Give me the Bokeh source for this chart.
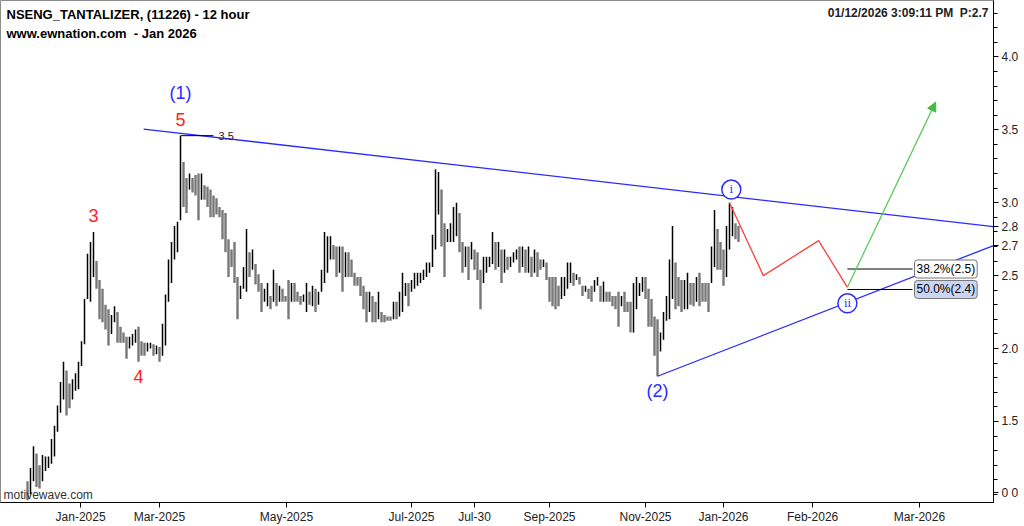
from bokeh.plotting import figure
from bokeh.models import Range1d, FixedTicker, Label, Arrow, NormalHead, ColumnDataSource
from bokeh.core.properties import value
from bokeh.embed import file_html
from bokeh.resources import INLINE

# ---------------- data (12h bars, high / low) ----------------
highs = [
    1.09, 1.18, 1.33, 1.28, 1.20, 1.27, 1.26, 1.26, 1.38, 1.47,
    1.61, 1.77, 1.91, 1.85, 1.76, 1.79, 1.83, 1.91, 2.05, 2.34,
    2.65, 2.73, 2.80, 2.60, 2.47, 2.41, 2.30, 2.27, 2.23, 2.29,
    2.25, 2.15, 2.11, 2.08, 2.08, 2.10, 2.13, 2.15, 2.05, 2.04,
    2.04, 2.04, 2.03, 2.02, 2.01, 2.17, 2.37, 2.61, 2.73, 2.84,
    2.87, 3.46, 3.28, 3.17, 3.20, 3.17, 3.19, 3.20, 3.20, 3.12,
    3.11, 3.09, 3.05, 3.03, 2.97, 2.95, 2.93, 2.75, 2.68, 2.73,
    2.49, 2.43, 2.56, 2.82, 2.66, 2.68, 2.58, 2.51, 2.45, 2.41,
    2.45, 2.36, 2.54, 2.45, 2.43, 2.41, 2.36, 2.47, 2.45, 2.45,
    2.39, 2.36, 2.37, 2.45, 2.39, 2.43, 2.41, 2.39, 2.54, 2.80,
    2.77, 2.77, 2.71, 2.70, 2.70, 2.70, 2.66, 2.66, 2.61, 2.52,
    2.49, 2.49, 2.43, 2.39, 2.39, 2.36, 2.32, 2.39, 2.25, 2.23,
    2.22, 2.22, 2.32, 2.32, 2.39, 2.52, 2.45, 2.45, 2.47, 2.52,
    2.52, 2.52, 2.54, 2.59, 2.59, 2.78, 3.23, 3.21, 3.09, 2.86,
    2.82, 2.86, 2.97, 3.00, 2.93, 2.73, 2.70, 2.70, 2.73, 2.68,
    2.66, 2.54, 2.63, 2.63, 2.63, 2.80, 2.73, 2.73, 2.68, 2.68,
    2.63, 2.63, 2.66, 2.68, 2.70, 2.70, 2.68, 2.70, 2.63, 2.68,
    2.66, 2.61, 2.61, 2.59, 2.49, 2.49, 2.49, 2.43, 2.49, 2.49,
    2.59, 2.59, 2.52, 2.51, 2.49, 2.43, 2.43, 2.41, 2.43, 2.47,
    2.49, 2.43, 2.46, 2.39, 2.39, 2.36, 2.36, 2.39, 2.36, 2.39,
    2.32, 2.32, 2.45, 2.49, 2.45, 2.49, 2.49, 2.41, 2.34, 2.22,
    2.20, 2.11, 2.25, 2.36, 2.61, 2.84, 2.59, 2.49, 2.47, 2.47,
    2.52, 2.45, 2.45, 2.49, 2.52, 2.45, 2.45, 2.45, 2.70, 2.95,
    2.82, 2.73, 2.68, 2.84, 3.00, 2.97, 2.86, 2.84,
]
lows = [
    0.96, 1.00, 1.09, 1.05, 1.04, 1.09, 1.16, 1.18, 1.21, 1.26,
    1.43, 1.56, 1.65, 1.54, 1.59, 1.65, 1.71, 1.72, 1.88, 2.03,
    2.34, 2.32, 2.49, 2.41, 2.20, 2.18, 2.13, 2.02, 2.10, 2.18,
    2.04, 2.04, 2.04, 1.93, 2.00, 2.02, 2.04, 1.91, 1.95, 1.95,
    1.98, 2.00, 1.95, 1.96, 1.91, 1.95, 2.02, 2.32, 2.45, 2.61,
    2.66, 2.88, 2.97, 2.93, 3.09, 3.07, 3.05, 2.88, 3.02, 3.02,
    2.97, 2.90, 2.90, 2.92, 2.90, 2.75, 2.66, 2.49, 2.56, 2.45,
    2.20, 2.34, 2.41, 2.39, 2.49, 2.54, 2.44, 2.39, 2.25, 2.32,
    2.29, 2.27, 2.32, 2.29, 2.32, 2.32, 2.32, 2.20, 2.32, 2.32,
    2.32, 2.30, 2.32, 2.25, 2.30, 2.29, 2.25, 2.30, 2.39, 2.45,
    2.52, 2.61, 2.61, 2.49, 2.52, 2.39, 2.49, 2.49, 2.49, 2.43,
    2.43, 2.36, 2.27, 2.18, 2.25, 2.18, 2.18, 2.20, 2.18, 2.18,
    2.19, 2.19, 2.20, 2.20, 2.22, 2.25, 2.36, 2.29, 2.39, 2.41,
    2.43, 2.45, 2.47, 2.49, 2.52, 2.56, 2.68, 2.92, 2.70, 2.49,
    2.73, 2.73, 2.73, 2.77, 2.66, 2.52, 2.56, 2.47, 2.61, 2.54,
    2.47, 2.27, 2.45, 2.52, 2.56, 2.58, 2.54, 2.56, 2.45, 2.52,
    2.54, 2.56, 2.59, 2.61, 2.52, 2.56, 2.52, 2.52, 2.49, 2.52,
    2.49, 2.54, 2.56, 2.47, 2.32, 2.29, 2.27, 2.29, 2.34, 2.36,
    2.41, 2.45, 2.43, 2.47, 2.44, 2.36, 2.39, 2.34, 2.32, 2.39,
    2.43, 2.32, 2.32, 2.32, 2.32, 2.29, 2.27, 2.15, 2.29, 2.25,
    2.25, 2.11, 2.11, 2.27, 2.36, 2.39, 2.34, 2.15, 2.15, 1.95,
    1.81, 1.98, 2.06, 2.19, 2.20, 2.34, 2.27, 2.29, 2.25, 2.27,
    2.27, 2.30, 2.29, 2.32, 2.29, 2.32, 2.32, 2.25, 2.45, 2.56,
    2.54, 2.54, 2.43, 2.49, 2.68, 2.77, 2.75, 2.73,
]

tick_pos = [17.7, 44, 86.3, 128, 149, 174, 206, 232, 261.7, 297.3]
tick_labels = ["Jan-2025", "Mar-2025", "May-2025", "Jul-2025", "Jul-30",
               "Sep-2025", "Nov-2025", "Jan-2026", "Feb-2026", "Mar-2026"]
price_ticks = [1.5, 2.0, 2.5, 3.0, 3.5, 4.0]

wave_names = ["3", "4", "5", "(1)", "(2)"]
wave_bars = [22, 37, 51, 51, 210]

minor_names = ["i", "ii"]
proj_x = [234, 245.3, 263.7, 273.3]
proj_y = [3.00, 2.50, 2.74, 2.42]
target_x = [273.3, 302.7]
target_y = [2.42, 3.69]
upper_x = [38.7, 322]
upper_y = [3.505, 2.836]
lower_x = [210, 322]
lower_y = [1.81, 2.706]
fib_ratios = [0.382, 0.5]

NB = "\u00a0"
title_lines = ["NSENG_TANTALIZER, (11226) - 12 hour", "www.ewnation.com" + NB + " - Jan 2026"]
stamp = "01/12/2026 3:09:11 PM" + NB + " P:2.7"

# ---------------- figure ----------------
X0, X1 = -9, 322
Y0, Y1 = 0.944, 4.387
FONT = "Liberation Sans"

p = figure(width=1024, height=526, x_range=Range1d(X0, X1), y_range=Range1d(Y0, Y1),
           y_axis_location="right", output_backend="svg", toolbar_location=None,
           min_border_left=0, min_border_top=0, min_border_right=31, min_border_bottom=22)
p.xgrid.visible = False
p.ygrid.visible = False
p.outline_line_color = "#8c8c8c"
p.background_fill_color = "white"
p.border_fill_color = "white"

# right price axis (the line's current values are tagged on it)
tag_vals = [upper_y[-1], lower_y[-1], Y0 + 0.066]
tag_text = [f"{upper_y[-1]:.1f}", f"{lower_y[-1]:.1f}", "0 0"]
ya = p.yaxis[0]
minor = [round(1.0 + 0.1 * k, 2) for k in range(35)]
ya.ticker = FixedTicker(ticks=price_ticks + tag_vals, minor_ticks=minor)
overrides = {t: f"{t:.1f}" for t in price_ticks}
overrides.update({t: s for t, s in zip(tag_vals, tag_text)})
ya.major_label_overrides = overrides
ya.major_label_text_font = FONT
ya.major_label_text_font_size = "12px"
ya.major_label_text_color = "#222222"
ya.axis_line_color = "black"
ya.major_tick_out = 5
ya.major_tick_in = 0
ya.minor_tick_out = 4
ya.minor_tick_in = 0
ya.major_label_standoff = 3

xa = p.xaxis[0]
xa.ticker = FixedTicker(ticks=tick_pos, minor_ticks=[])
xa.major_label_overrides = {t: l for t, l in zip(tick_pos, tick_labels)}
xa.major_label_text_font = FONT
xa.major_label_text_font_size = "12px"
xa.major_label_text_color = "#222222"
xa.axis_line_color = "black"
xa.major_tick_out = 5
xa.major_tick_in = 0
xa.major_label_standoff = 2

# ---------------- bars ----------------
idx = list(range(len(highs)))
mids = [(h + l) / 2 for h, l in zip(highs, lows)]
up = [i > 0 and mids[i] > mids[i - 1] for i in idx]
src_dn = ColumnDataSource(dict(x=[i for i in idx if not up[i]],
                               h=[highs[i] for i in idx if not up[i]],
                               l=[lows[i] for i in idx if not up[i]]))
src_up = ColumnDataSource(dict(x=[i for i in idx if up[i]],
                               h=[highs[i] for i in idx if up[i]],
                               l=[lows[i] for i in idx if up[i]]))
p.segment(x0="x", y0="l", x1="x", y1="h", source=src_dn, line_color="#787878", line_width=2.4)
p.segment(x0="x", y0="l", x1="x", y1="h", source=src_up, line_color="black", line_width=1.5)

# ---------------- trend lines and projection ----------------
BLUE = "#2b2bff"
p.line(upper_x, upper_y, line_color=BLUE, line_width=1.3)
p.line(lower_x, lower_y, line_color=BLUE, line_width=1.3)
p.line(proj_x, proj_y, line_color="#ff4040", line_width=1.3)
p.add_layout(Arrow(end=NormalHead(size=9, fill_color="#44bb44", line_color="#44bb44"),
                   x_start=target_x[0], y_start=target_y[0], x_end=target_x[1], y_end=target_y[1],
                   line_color="#55c855", line_width=1.2))

# high marker of wave 5
top_i = wave_bars[2]
p.segment(x0=[top_i], y0=[highs[top_i]], x1=[top_i + 11], y1=[highs[top_i]], line_color="black", line_width=1)
p.add_layout(Label(x=top_i + 11, y=highs[top_i], text=f"{highs[top_i]:.1f}", x_offset=5,
                   text_baseline="middle", text_font=FONT, text_font_size="11px", text_color="#222"))

# fib retracements of wave i
top = proj_y[0]
bottom = lows[wave_bars[4]]
fib_levels = [top - r * (top - bottom) for r in fib_ratios]
fib_bg = ["white", "#c9d6f5"]
for r, lv, bg in zip(fib_ratios, fib_levels, fib_bg):
    p.segment(x0=[proj_x[3]], y0=[lv], x1=[295], y1=[lv], line_color="black", line_width=1)
    p.add_layout(Label(x=295, y=lv, text=f"{r*100:.1f}%({lv:.1f})", x_offset=2,
                       text_baseline="middle", text_font=FONT, text_font_size="12px",
                       text_color="black", background_fill_color=bg,
                       border_line_color="#777777", border_line_width=1, padding=2,
                       border_radius=3))

# wave labels
for name, b in zip(wave_names, wave_bars):
    if name in ("4", "(2)"):
        y, off = lows[b], -15
    elif name == "(1)":
        y, off = highs[b], 43
    else:
        y, off = highs[b], 16
    col = BLUE if "(" in name else "#ff2020"
    p.add_layout(Label(x=b, y=y, text=name, y_offset=off, text_align="center",
                       text_baseline="middle", text_font=FONT, text_font_size="18px",
                       text_color=col))

# minor wave circles
circ_x = [proj_x[0] + 0.6, proj_x[3]]
circ_y = [proj_y[0] + 0.09, proj_y[3] - 0.11]
p.scatter(circ_x, circ_y, size=19, fill_color="white", line_color=BLUE, line_width=1.5)
p.text(circ_x, circ_y, text=minor_names, text_align="center", text_baseline="middle",
       text_font=value("DejaVu Serif"), text_font_size="11px", text_color=BLUE)

# titles
for k, t in enumerate(title_lines):
    p.add_layout(Label(x=X0, y=Y1, text=t, x_offset=6, y_offset=-14 - 19 * k,
                       text_baseline="middle", text_font=FONT, text_font_size="13px",
                       text_font_style="bold", text_color="black"))
p.add_layout(Label(x=X1, y=Y1, text=stamp, x_offset=-5, y_offset=-12, text_align="right",
                   text_baseline="middle", text_font=FONT, text_font_size="12px",
                   text_font_style="bold", text_color="#222"))
p.add_layout(Label(x=X0, y=Y0, text="motivewave.com", x_offset=3, y_offset=8,
                   text_baseline="middle", text_font=FONT, text_font_size="12px",
                   text_color="#333"))

open("out.html", "w").write(file_html(p, INLINE))
